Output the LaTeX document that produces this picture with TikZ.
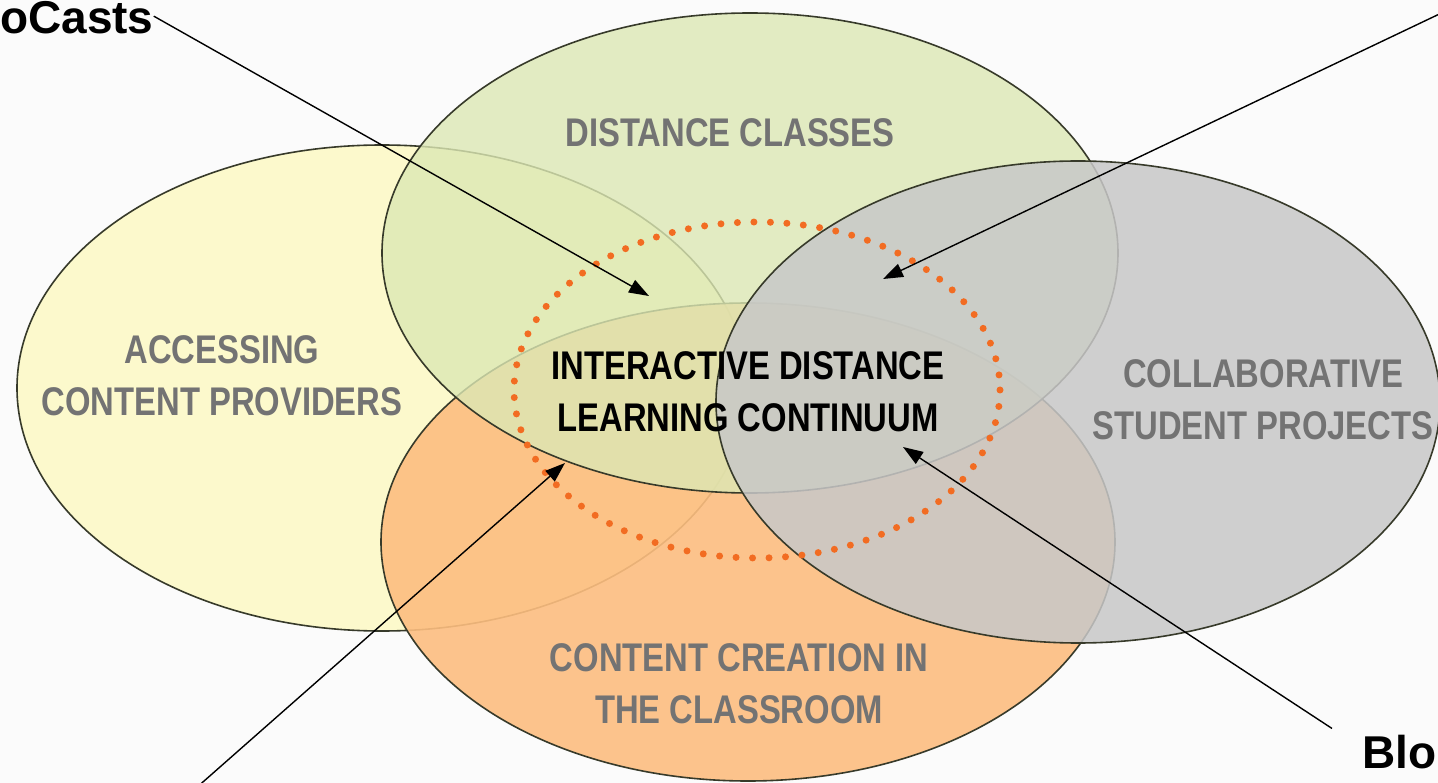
\documentclass[tikz,border=0pt]{standalone}
\usepackage{fontspec}
\setmainfont{Liberation Sans}
\newfontfamily\narrowfont{Liberation Sans}[FakeStretch=0.82]
\usetikzlibrary{arrows.meta}
\definecolor{bgc}{RGB}{251,251,251}
\definecolor{yel}{RGB}{252,249,204}
\definecolor{grn}{RGB}{220,232,180}
\definecolor{org}{RGB}{253,190,128}
\definecolor{gry}{RGB}{200,200,200}
\definecolor{edgec}{RGB}{55,58,42}
\definecolor{lbl}{RGB}{115,115,115}
\definecolor{dotc}{RGB}{242,108,34}
\begin{document}
\begin{tikzpicture}[x=1pt,y=-1pt,
  venn/.style={draw=edgec,line width=1.6pt},
  area/.style={font=\narrowfont\bfseries\fontsize{40}{52}\selectfont,text=lbl,align=center,inner sep=0pt},
  core/.style={area,text=black},
  tag/.style={font=\bfseries\fontsize{46}{50}\selectfont,text=black,inner sep=0pt,anchor=base west},
  pointer/.style={draw=black,line width=1.4pt,-{Triangle[length=20pt,width=14pt]}},
  dotring/.style={draw=dotc,line width=7pt,line cap=round,dash pattern=on 0pt off 16.5pt}]
\path[fill=bgc] (0,0) rectangle (1438,783);
\useasboundingbox (0,0) rectangle (1438,783);
\clip (0,0) rectangle (1438,783);
% circles
\path[venn,fill=yel] (382,388) ellipse [x radius=365,y radius=243];
\path[venn,fill=org,fill opacity=0.9] (748,542) ellipse [x radius=367,y radius=239];
\path[venn,fill=grn,fill opacity=0.8] (750,253) ellipse [x radius=368,y radius=240];
\path[venn,fill=gry,fill opacity=0.85] (1078,402) ellipse [x radius=362,y radius=241];
\path[dotring] (757,390) ellipse [x radius=243,y radius=168];
% texts
\node[area] (acc) at (222,376) {ACCESSING\\CONTENT PROVIDERS};
\node[area] (dc) at (730,133) {DISTANCE CLASSES};
\node[area] (csp) at (1263,400) {COLLABORATIVE\\STUDENT PROJECTS};
\node[area] (ccc) at (739,684) {CONTENT CREATION IN\\THE CLASSROOM};
\node[core] (idl) at (748,392) {INTERACTIVE DISTANCE\\LEARNING CONTINUUM};
\node[tag] (pod) at (0,34) {oCasts};
\node[tag] (blo) at (1362,768) {Blo};
% arrow targets and free ends
\coordinate (t1) at (649,296);
\coordinate (t2) at (883,279);
\coordinate (t3) at (565,463);
\coordinate (t4) at (903,447);
\coordinate (ne) at (1452,8);
\coordinate (sw) at (195,789);
\draw[pointer] ([yshift=2pt]pod.east) -- (t1);
\draw[pointer] (ne) -- (t2);
\draw[pointer] (sw) -- (t3);
\draw[pointer] ([shift={(-30,-6)}]blo.north west) -- (t4);
\end{tikzpicture}
\end{document}
